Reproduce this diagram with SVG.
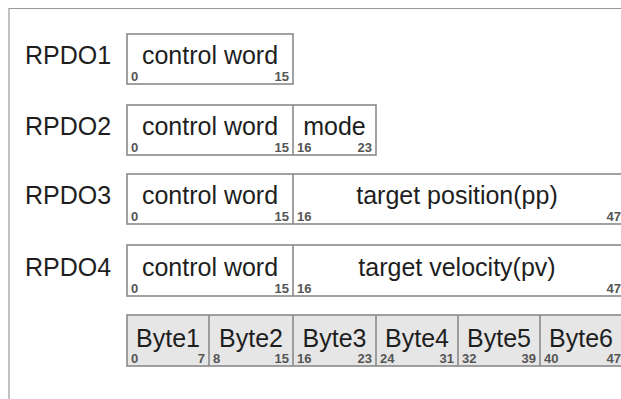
<svg xmlns="http://www.w3.org/2000/svg" width="621" height="399" viewBox="0 0 621 399">
<style>
.frame{stroke:#9a9a9a;stroke-width:1.2;fill:none}
.box{fill:#fff;stroke:#8a8a8a;stroke-width:1.6}
.gbox{fill:#e6e6e6;stroke:#8a8a8a;stroke-width:1.6}
.div{stroke:#8a8a8a;stroke-width:1.6}
.lbl{font-family:"Liberation Sans",Arial,sans-serif;font-size:25px;fill:#1e1e1e}
.fld{font-family:"Liberation Sans",Arial,sans-serif;font-size:25px;fill:#1e1e1e;text-anchor:middle}
.n{font-family:"Liberation Sans",Arial,sans-serif;font-size:13px;font-weight:bold;fill:#555}
.r{text-anchor:end}
</style>
<rect width="621" height="399" fill="#fff"/>
<path class="frame" d="M9,399 V8.5 H621"/>
<g id="rpdo1">
<text class="lbl" x="25" y="64">RPDO1</text>
<rect class="box" x="127" y="34" width="166" height="50"/>
<text class="fld" x="210" y="64">control word</text>
<text class="n" x="131" y="81">0</text><text class="n r" x="289" y="81">15</text>
</g>
<g id="rpdo2">
<text class="lbl" x="25" y="135">RPDO2</text>
<rect class="box" x="127" y="105" width="249" height="50"/>
<line class="div" x1="293" y1="105" x2="293" y2="155"/>
<text class="fld" x="210" y="135">control word</text>
<text class="fld" x="334.5" y="135">mode</text>
<text class="n" x="131" y="152">0</text><text class="n r" x="289" y="152">15</text>
<text class="n" x="297" y="152">16</text><text class="n r" x="372" y="152">23</text>
</g>
<g id="rpdo3">
<text class="lbl" x="25" y="204">RPDO3</text>
<rect class="box" x="127" y="174" width="495" height="50"/>
<line class="div" x1="293" y1="174" x2="293" y2="224"/>
<text class="fld" x="210" y="204">control word</text>
<text class="fld" x="457" y="204">target position(pp)</text>
<text class="n" x="131" y="221">0</text><text class="n r" x="289" y="221">15</text>
<text class="n" x="297" y="221">16</text><text class="n r" x="621" y="221">47</text>
</g>
<g id="rpdo4">
<text class="lbl" x="25" y="276">RPDO4</text>
<rect class="box" x="127" y="245" width="495" height="51"/>
<line class="div" x1="293" y1="245" x2="293" y2="296"/>
<text class="fld" x="210" y="276">control word</text>
<text class="fld" x="457" y="276">target velocity(pv)</text>
<text class="n" x="131" y="293">0</text><text class="n r" x="289" y="293">15</text>
<text class="n" x="297" y="293">16</text><text class="n r" x="621" y="293">47</text>
</g>
<g id="bytes">
<rect class="gbox" x="127" y="315" width="495" height="51"/>
<line class="div" x1="209" y1="315" x2="209" y2="366"/>
<line class="div" x1="293" y1="315" x2="293" y2="366"/>
<line class="div" x1="376" y1="315" x2="376" y2="366"/>
<line class="div" x1="458" y1="315" x2="458" y2="366"/>
<line class="div" x1="540" y1="315" x2="540" y2="366"/>
<text class="fld" x="168" y="347">Byte1</text>
<text class="fld" x="251" y="347">Byte2</text>
<text class="fld" x="334.5" y="347">Byte3</text>
<text class="fld" x="417" y="347">Byte4</text>
<text class="fld" x="499" y="347">Byte5</text>
<text class="fld" x="581" y="347">Byte6</text>
<text class="n" x="131" y="363">0</text><text class="n r" x="205" y="363">7</text>
<text class="n" x="213" y="363">8</text><text class="n r" x="289" y="363">15</text>
<text class="n" x="297" y="363">16</text><text class="n r" x="372" y="363">23</text>
<text class="n" x="380" y="363">24</text><text class="n r" x="454" y="363">31</text>
<text class="n" x="462" y="363">32</text><text class="n r" x="536" y="363">39</text>
<text class="n" x="544" y="363">40</text><text class="n r" x="621" y="363">47</text>
</g>
</svg>
